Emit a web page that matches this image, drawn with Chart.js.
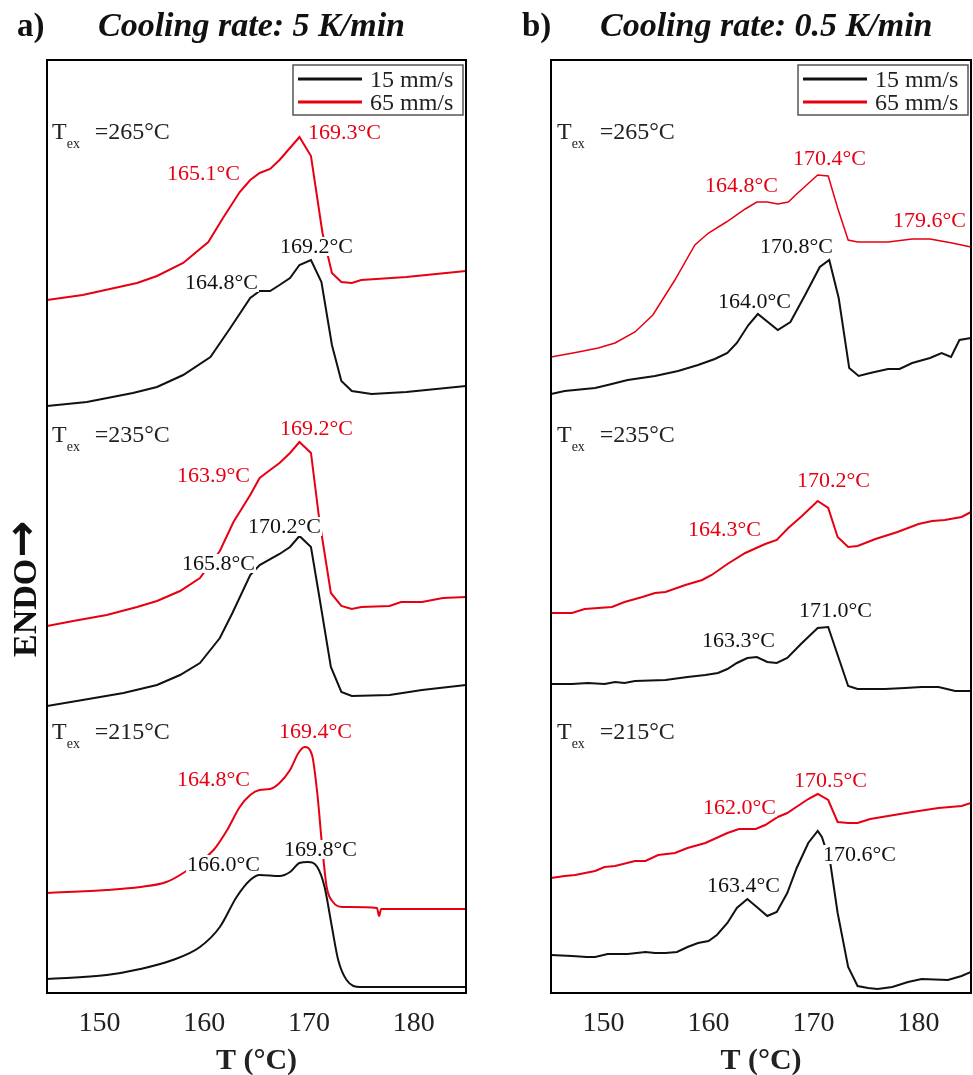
<!DOCTYPE html>
<html>
<head>
<meta charset="utf-8">
<script src="https://cdn.jsdelivr.net/npm/chart.js@4.4.1/dist/chart.umd.min.js"></script>
<style>
  html, body { margin: 0; padding: 0; background: #fff; }
  #wrap { position: relative; width: 973px; height: 1075px; }
  canvas { position: absolute; top: 0; }
  #chartA { left: 0; }
  #chartB { left: 486px; }
</style>
</head>
<body>
<div id="wrap">
  <canvas id="chartA" width="486" height="1075"></canvas>
  <canvas id="chartB" width="487" height="1075"></canvas>
</div>
<script>
const xTicks = [150, 160, 170, 180];
const speeds = ['15 mm/s', '65 mm/s'];
const extrusionTemps = ['265', '235', '215'];

// [T (°C), heat flow (a.u., curves stacked with offsets)]
// a) cooling rate 5 K/min
const a265_15 = [[145,587],[148.8,591],[153.2,600],[155.5,606],[158,618],[160.6,636],[162.5,665],[164.4,695],[165.3,702],[166.3,702],[167.2,708],[168.2,715],[169.1,728],[170.2,733],[171.2,711],[172.2,648],[173.1,612],[174.1,602],[176,599],[179.3,601],[185,607]];
const a265_65 = [[145,693],[148.4,698],[153.6,710],[155.5,717],[158,730],[160.4,751],[161.8,775],[163.4,801],[164.4,813],[165.3,820],[166.3,824],[167.2,833],[169.1,856],[170.2,837],[171.3,760],[172.2,720],[173.1,711],[174.1,710],[175,713],[179.3,716],[185,722]];
const a235_15 = [[145,287],[148.4,293],[152.3,300],[155.5,308],[157.7,318],[159.6,330],[161.5,355],[162.7,380],[164.4,418],[165.3,428],[167.2,439],[168.2,446],[169.1,457],[170.2,446],[171,396],[172.1,326],[173.1,301],[174.1,297],[177.7,298],[180.8,303],[185,308]];
const a235_65 = [[145,367],[147.5,372],[150.7,378],[153.6,386],[155.5,392],[157.7,402],[159.6,415],[161.5,442],[162.8,471],[164.4,498],[165.3,515],[166.3,523],[167.2,530],[168.2,540],[169.1,551],[170.2,540],[171,473],[172.1,400],[173.1,387],[174.1,384],[175,386],[177.7,387],[178.8,391],[180.8,391],[182.8,395],[185,396]];
const a215_15 = [[145,14],[150.7,18],[153.9,24],[157,33],[159.6,46],[161.5,66],[163.1,96],[164.4,113],[165.3,118],[167.2,117],[168.2,121],[169.1,130],[169.9,131],[170.8,126],[171.5,106],[172.2,66],[172.8,33],[173.6,13],[174.9,6],[179.3,6],[185,6]];
const a215_65 = [[145,100],[150.7,103],[153.9,106],[156.4,111],[158,120],[160.9,143],[162.2,163],[163.4,186],[164.4,198],[165.3,203],[166.3,204],[167.2,210],[168.2,223],[169,240],[169.6,246],[170.3,238],[170.8,200],[171.3,143],[171.7,106],[172.3,91],[173.2,86],[176.5,85],[176.7,77],[176.9,84],[179.3,84],[185,84]];

// b) cooling rate 0.5 K/min
const b265_15 = [[145,599],[146.3,602],[149.2,605],[150.4,608],[152.3,613],[154.9,617],[157.1,622],[159,628],[160.6,634],[161.8,640],[162.7,650],[163.8,668],[164.7,679],[166.6,663],[167.8,671],[169.2,698],[170.6,726],[171.5,733],[172.4,695],[173.4,625],[174.3,617],[175.4,620],[177.1,624],[178.2,624],[179.4,630],[181.1,635],[182.2,640],[183.1,636],[183.9,653],[185,655]];
const b265_65 = [[145,636],[147.6,641],[149.5,645],[151.1,650],[153,661],[154.7,678],[156.8,713],[158.7,748],[160,760],[161.7,771],[163.5,784],[164.6,791],[165.6,791],[166.6,789],[167.6,791],[168.5,800],[170.4,818],[171.4,817],[172.3,785],[173.3,753],[174.2,751],[177.1,751],[179.4,754],[181.1,754],[183.2,750],[185,746]];
const b235_15 = [[145,309],[147,309],[148.5,310],[150.1,309],[151.1,311],[152,310],[153,312],[155.9,313],[158,316],[159.7,318],[160.9,320],[161.8,324],[162.7,330],[163.7,335],[164.6,336],[165.6,331],[166.5,330],[167.5,335],[168.9,350],[170.4,365],[171.4,366],[172.3,338],[173.3,307],[174.2,304],[176.8,304],[178.7,305],[180.3,306],[181.9,306],[183.5,302],[185,302]];
const b235_65 = [[145,380],[147,380],[148.2,384],[150.8,386],[152,391],[153.7,396],[154.9,400],[155.9,401],[157.8,408],[159.4,413],[160.3,418],[161.8,429],[163.5,440],[165.4,449],[166.5,453],[167.6,465],[168.9,477],[170.4,492],[171.4,485],[172.3,456],[173.3,446],[174.2,447],[175.9,454],[178,461],[180,469],[181.3,472],[182.5,473],[184.1,476],[185,481]];
const b215_15 = [[145,38],[147,37],[148.4,36],[149.2,36],[150.4,39],[152.3,39],[154,41],[154.9,40],[155.9,40],[157,41],[158,46],[159,50],[160,52],[160.8,58],[161.8,70],[162.7,85],[163.7,94],[164.6,86],[165.6,77],[166.5,81],[167.5,100],[168.4,125],[169.5,150],[170.4,162],[170.8,156],[171.6,130],[172.3,80],[173.3,26],[174.2,7],[175.2,5],[176.1,4],[177.5,6],[179,11],[180.3,14],[182.8,13],[184.1,17],[185,21]];
const b215_65 = [[145,115],[146.3,117],[147.3,118],[149.2,122],[150.1,126],[151.1,127],[153,132],[154,132],[155.2,138],[156.8,140],[158,145],[159.7,150],[161.8,160],[162.9,164],[164.5,164],[165.4,168],[166.6,176],[167.5,180],[168.5,187],[169.5,194],[170.4,199],[171.4,193],[172.3,171],[173.3,170],[174.2,170],[175.4,174],[177.1,177],[179.4,181],[181.9,185],[184.1,187],[185,190]];

const RED = '#e60012';
const BLK = '#111';

// peak labels: [text, T, level, colour]
const peaksA = [
    ['169.3°C', 169.92, 854, RED], ['165.1°C', 156.46, 813, RED],
    ['169.2°C', 167.24, 740, BLK], ['164.8°C', 158.17, 704, BLK],
    ['169.2°C', 167.24, 558, RED], ['163.9°C', 157.41, 511, RED],
    ['170.2°C', 164.19, 460, BLK], ['165.8°C', 157.89, 423, BLK],
    ['169.4°C', 167.15, 255, RED], ['164.8°C', 157.41, 207, RED],
    ['169.8°C', 167.63, 137, BLK], ['166.0°C', 158.37, 122, BLK]
];
const peaksB = [
    ['170.4°C', 168.05, 828, RED], ['164.8°C', 159.67, 801, RED], ['179.6°C', 177.57, 766, RED],
    ['170.8°C', 164.90, 740, BLK], ['164.0°C', 160.90, 685, BLK],
    ['170.2°C', 168.43, 506, RED], ['164.3°C', 158.05, 457, RED],
    ['171.0°C', 168.62, 376, BLK], ['163.3°C', 159.38, 346, BLK],
    ['170.5°C', 168.14, 206, RED], ['162.0°C', 159.48, 179, RED],
    ['170.6°C', 170.90, 132, BLK], ['163.4°C', 159.86, 101, BLK]
];
const texLevels = [854, 551, 254];

const SERIF = '"Liberation Serif", "Times New Roman", serif';

const decor = {
    id: 'decor',
    afterDatasetsDraw(chart, args, opts) {
        const ctx = chart.ctx;
        const area = chart.chartArea;
        const xs = chart.scales.x, ys = chart.scales.y;
        ctx.save();
        ctx.textBaseline = 'alphabetic';
        ctx.textAlign = 'left';

        // peak temperature labels (white box hides the curves behind them)
        ctx.font = '22px ' + SERIF;
        opts.peaks.forEach(([txt, t, v, col]) => {
            const px = xs.getPixelForValue(t), py = ys.getPixelForValue(v);
            const w = ctx.measureText(txt).width;
            ctx.fillStyle = '#fff';
            ctx.fillRect(px - 1, py - 16, w + 2, 19);
            ctx.fillStyle = col;
            ctx.fillText(txt, px, py);
        });

        // T_ex labels
        extrusionTemps.forEach((temp, i) => {
            const px = xs.getPixelForValue(opts.texT), py = ys.getPixelForValue(texLevels[i]);
            ctx.fillStyle = '#222';
            ctx.font = '24px ' + SERIF;
            ctx.fillText('T', px, py);
            const wT = ctx.measureText('T').width;
            ctx.font = '14px ' + SERIF;
            ctx.fillText('ex', px + wT, py + 9);
            ctx.font = '24px ' + SERIF;
            ctx.fillText('=' + temp + '°C', px + wT + 28, py);
        });

        // frame
        ctx.strokeStyle = '#000';
        ctx.lineWidth = 2;
        ctx.strokeRect(area.left, area.top, area.width, area.height);

        // legend
        const lx = area.right - 173, ly = area.top + 5;
        ctx.lineWidth = 1.5;
        ctx.strokeStyle = '#555';
        ctx.strokeRect(lx, ly, 170, 50);
        [BLK, RED].forEach((col, i) => {
            const yy = ly + 14 + i * 23;
            ctx.strokeStyle = col;
            ctx.lineWidth = 3;
            ctx.beginPath();
            ctx.moveTo(lx + 5, yy);
            ctx.lineTo(lx + 69, yy);
            ctx.stroke();
            ctx.fillStyle = '#222';
            ctx.font = '24px ' + SERIF;
            ctx.fillText(speeds[i], lx + 77, yy + 8);
        });

        // panel title
        ctx.fillStyle = '#111';
        ctx.font = 'bold 33px ' + SERIF;
        ctx.fillText(opts.letter, opts.letterX, 36);
        ctx.font = 'italic bold 34px ' + SERIF;
        ctx.fillText(opts.title, opts.titleX, 36);

        // vertical axis label: word plus a larger arrow glyph
        if (opts.yLabel) {
            ctx.translate(25, 657);
            ctx.rotate(-Math.PI / 2);
            ctx.textBaseline = 'middle';
            ctx.font = 'bold 34px ' + SERIF;
            ctx.fillText(opts.yLabel[0], 0, 2);
            const w = ctx.measureText(opts.yLabel[0]).width;
            ctx.font = 'bold 44px "DejaVu Sans"';
            ctx.fillText(opts.yLabel[1], w + 1, 0);
        }
        ctx.restore();
    }
};

function curve(points, color, width, smooth) {
    return {
        data: points.map(([x, y]) => ({ x, y })),
        borderColor: color,
        borderWidth: width,
        pointRadius: 0,
        fill: false,
        tension: smooth ? 0.4 : 0,
        cubicInterpolationMode: smooth ? 'monotone' : 'default'
    };
}

function makeChart(id, datasets, padLeft, padRight, decorOpts) {
    return new Chart(document.getElementById(id), {
        type: 'line',
        data: { datasets },
        options: {
            responsive: false,
            animation: false,
            events: [],
            layout: { padding: { left: padLeft, right: padRight, top: 60, bottom: 0 } },
            plugins: {
                legend: { display: false },
                tooltip: { enabled: false },
                decor: decorOpts
            },
            scales: {
                x: {
                    type: 'linear',
                    min: 145,
                    max: 185,
                    afterBuildTicks: s => { s.ticks = xTicks.map(v => ({ value: v })); },
                    ticks: { font: { family: SERIF, size: 28 }, color: '#222', padding: 14, maxRotation: 0 },
                    grid: { display: false, drawTicks: false },
                    border: { display: false },
                    title: {
                        display: true,
                        text: 'T (°C)',
                        color: '#222',
                        font: { family: SERIF, size: 30, weight: 'bold' },
                        padding: { top: 0, bottom: -4 }
                    },
                    afterFit: s => { s.height = 82; }
                },
                y: { display: false, min: 0, max: 933 }
            }
        },
        plugins: [decor]
    });
}

makeChart('chartA', [
    curve(a265_15, BLK, 2), curve(a265_65, RED, 2),
    curve(a235_15, BLK, 2), curve(a235_65, RED, 2),
    curve(a215_15, BLK, 2, true), curve(a215_65, RED, 2, true)
], 47, 20, {
    peaks: peaksA, texT: 145.48,
    letter: 'a)', letterX: 17, title: 'Cooling rate: 5 K/min', titleX: 98,
    yLabel: ['ENDO', '→']
});

makeChart('chartB', [
    curve(b265_15, BLK, 2), curve(b265_65, RED, 1.5),
    curve(b235_15, BLK, 2), curve(b235_65, RED, 2),
    curve(b215_15, BLK, 2), curve(b215_65, RED, 2)
], 65, 2, {
    peaks: peaksB, texT: 145.57,
    letter: 'b)', letterX: 36, title: 'Cooling rate: 0.5 K/min', titleX: 114,
    yLabel: null
});
</script>
</body>
</html>
